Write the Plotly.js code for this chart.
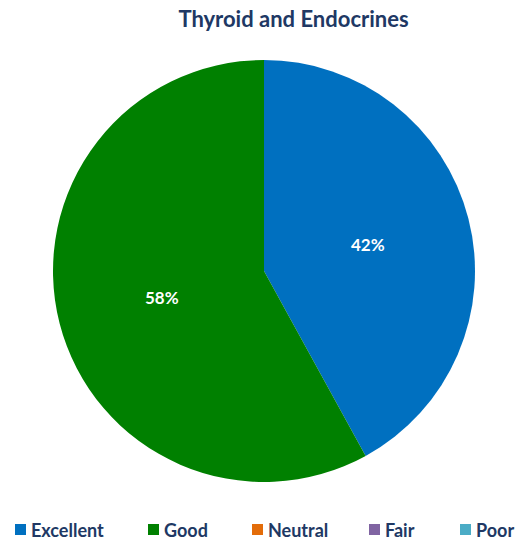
<!DOCTYPE html>
<html>
<head>
<meta charset="utf-8">
<script src="https://cdn.plot.ly/plotly-3.0.1.min.js"></script>
<style>html,body{margin:0;padding:0;background:#fff;}#chart{width:528px;height:545px;}</style>
</head>
<body>
<div id="chart"></div>
<script>
const categories = ['Excellent', 'Good', 'Neutral', 'Fair', 'Poor'];
const shares = [42, 58, 0, 0, 0];
const colors = ['#0070C0', '#008000', '#E36C09', '#8064A2', '#4BACC6'];
const chartTitle = 'Thyroid and Endocrines';

const W = 528, H = 545;
const M = {l: 0, r: 0, t: 60, b: 63};
const plotH = H - M.t - M.b;
const textColor = '#203864';
const fontFam = 'Lato, sans-serif';

// legend layout (pixel positions of each legend entry's swatch)
const legendX = [15, 148, 252, 369, 460];
const legendY = 529.5;
const sw = 11;
const px2x = p => (p - M.l) / (W - M.l - M.r);
const py2y = p => (H - M.b - p) / plotH;

const data = [{
  type: 'pie',
  labels: categories,
  values: shares,
  sort: false,
  direction: 'clockwise',
  rotation: 0,
  marker: {colors: colors, line: {width: 0}},
  textinfo: 'percent',
  texttemplate: '%{percent:.0%}',
  textposition: shares.map(v => v > 0 ? 'inside' : 'none'),
  insidetextfont: {family: fontFam, size: 17, color: '#ffffff', weight: 'bold'},
  hoverinfo: 'label+percent',
  showlegend: false,
  domain: {x: [0, 1], y: [0, 1]}
}];

const shapes = categories.map((c, i) => ({
  type: 'rect', xref: 'paper', yref: 'paper',
  x0: px2x(legendX[i]), x1: px2x(legendX[i] + sw),
  y0: py2y(legendY + sw / 2), y1: py2y(legendY - sw / 2),
  fillcolor: colors[i], line: {width: 0}
}));

const annotations = categories.map((c, i) => ({
  text: '<b>' + c + '</b>', showarrow: false,
  xref: 'paper', yref: 'paper',
  x: px2x(legendX[i] + sw + 3), xanchor: 'left',
  y: py2y(legendY), yanchor: 'middle',
  font: {family: fontFam, size: 18, color: textColor}
}));

const layout = {
  width: W,
  height: H,
  margin: M,
  paper_bgcolor: '#ffffff',
  title: {
    text: '<b>' + chartTitle + '</b>',
    font: {family: fontFam, size: 22, color: textColor},
    x: 293.5 / W, xanchor: 'center', xref: 'container',
    y: 1 - 19 / H, yref: 'container', yanchor: 'middle'
  },
  showlegend: false,
  shapes: shapes,
  annotations: annotations
};

Plotly.newPlot('chart', data, layout, {displayModeBar: false});
</script>
</body>
</html>
